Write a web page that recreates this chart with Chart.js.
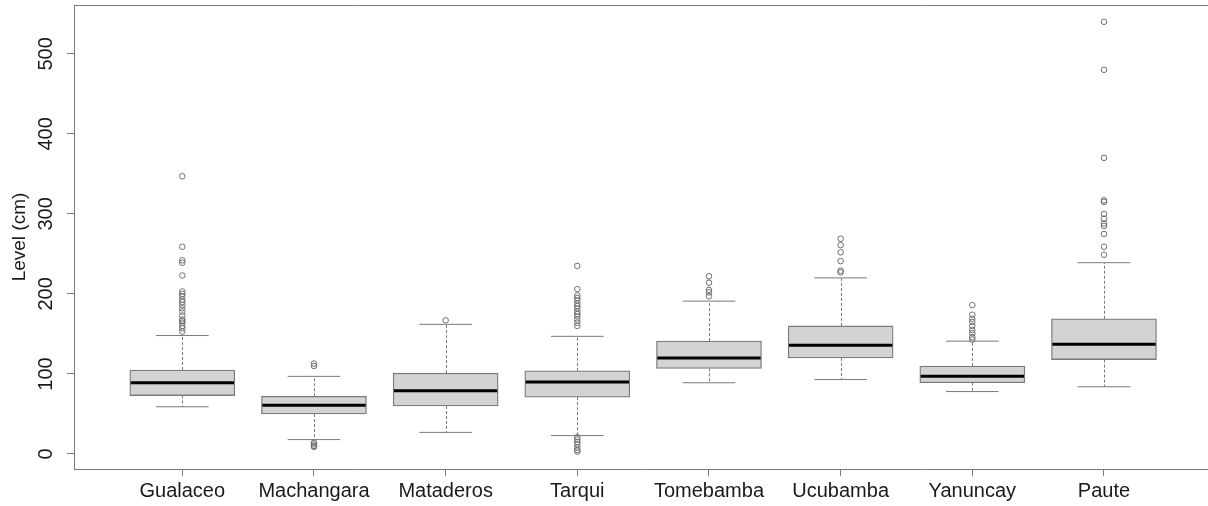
<!DOCTYPE html>
<html>
<head>
<meta charset="utf-8">
<script src="https://cdn.jsdelivr.net/npm/chart.js@4/dist/chart.umd.min.js"></script>
<style>
  html, body { margin: 0; padding: 0; background: #fff; overflow: hidden; }
  #wrap { width: 1208px; height: 506px; }
</style>
</head>
<body>
<div id="wrap"><canvas id="chart" width="1208" height="506"></canvas></div>
<script>
// estaciones
const categories = ['Gualaceo', 'Machangara', 'Mataderos', 'Tarqui', 'Tomebamba', 'Ucubamba', 'Yanuncay', 'Paute'];

// resumen de cada caja (cm)
const lowerWhisker = [59, 18, 27, 23, 89, 93, 78, 84];
const q1 = [73, 50, 60, 71, 107, 120, 89, 118];
const median = [89, 61, 79, 90, 120, 136, 97, 137];
const q3 = [105, 72, 101, 104, 141, 160, 110, 169];
const upperWhisker = [148, 97, 162, 147, 191, 220, 141, 239];

// valores atipicos por estacion
const outGualaceo = [347, 259, 242, 239, 223, 203, 200, 197, 193, 190, 186, 182, 178, 173, 168, 166, 164, 160, 157, 153];
const outMachangara = [113, 110, 14, 12, 10, 9];
const outMataderos = [167];
const outTarqui = [235, 206, 198, 195, 192, 188, 185, 182, 178, 175, 172, 168, 164, 160, 21, 18, 15, 12, 8, 5, 3];
const outTomebamba = [222, 214, 205, 202, 197];
const outUcubamba = [269, 261, 252, 241, 229, 227];
const outYanuncay = [186, 174, 169, 165, 160, 155, 151, 146, 143];
const outPaute = [540, 480, 370, 317, 315, 300, 294, 288, 285, 275, 259, 249];
const outliers = [outGualaceo, outMachangara, outMataderos, outTarqui, outTomebamba, outUcubamba, outYanuncay, outPaute];

const yTicks = [0, 100, 200, 300, 400, 500];

const GRIS = '#7a7a7a';
const FUENTE = "'Liberation Sans', Arial, sans-serif";

// datos para la libreria
const datosCajas = categories.map((c, i) => ({ x: i + 1, y: [q1[i], q3[i]] }));
const datosAtipicos = [];
outliers.forEach((lista, i) => {
    lista.forEach(v => datosAtipicos.push({ x: i + 1, y: v }));
});

// quitar el relleno automatico de las escalas
function sinRelleno(s) {
    s.paddingTop = 0;
    s.paddingBottom = 0;
    s.paddingLeft = 0;
    s.paddingRight = 0;
}

// bigotes, topes y medianas dibujados con las escalas del grafico
const bigotesPlugin = {
    id: 'bigotes',
    beforeDatasetsDraw(chart) {
        const ctx = chart.ctx;
        const xs = chart.scales.x;
        const ys = chart.scales.y;
        ctx.save();
        ctx.strokeStyle = GRIS;
        ctx.lineWidth = 1;
        categories.forEach((c, i) => {
            const x = Math.round(xs.getPixelForValue(i + 1)) + 0.5;
            const x0 = xs.getPixelForValue(i + 1 - 0.2);
            const x1 = xs.getPixelForValue(i + 1 + 0.2);
            ctx.setLineDash([3, 2]);
            ctx.beginPath();
            ctx.moveTo(x, ys.getPixelForValue(q3[i]));
            ctx.lineTo(x, ys.getPixelForValue(upperWhisker[i]));
            ctx.moveTo(x, ys.getPixelForValue(q1[i]));
            ctx.lineTo(x, ys.getPixelForValue(lowerWhisker[i]));
            ctx.stroke();
            ctx.setLineDash([]);
            ctx.beginPath();
            ctx.moveTo(x0, ys.getPixelForValue(upperWhisker[i]));
            ctx.lineTo(x1, ys.getPixelForValue(upperWhisker[i]));
            ctx.moveTo(x0, ys.getPixelForValue(lowerWhisker[i]));
            ctx.lineTo(x1, ys.getPixelForValue(lowerWhisker[i]));
            ctx.stroke();
        });
        ctx.restore();
    },
    afterDatasetsDraw(chart) {
        const ctx = chart.ctx;
        const xs = chart.scales.x;
        const ys = chart.scales.y;
        ctx.save();
        ctx.strokeStyle = '#000';
        ctx.lineWidth = 3;
        categories.forEach((c, i) => {
            const y = ys.getPixelForValue(median[i]);
            ctx.beginPath();
            ctx.moveTo(xs.getPixelForValue(i + 1 - 0.4) + 1, y);
            ctx.lineTo(xs.getPixelForValue(i + 1 + 0.4) - 1, y);
            ctx.stroke();
        });
        // borde superior del marco
        const a = chart.chartArea;
        ctx.strokeStyle = GRIS;
        ctx.lineWidth = 1;
        ctx.beginPath();
        ctx.moveTo(a.left, a.top + 0.5);
        ctx.lineTo(a.right, a.top + 0.5);
        ctx.stroke();
        ctx.restore();
    }
};

new Chart(document.getElementById('chart'), {
    data: {
        datasets: [
            {
                type: 'bar',
                data: datosCajas,
                backgroundColor: '#d3d3d3',
                borderColor: GRIS,
                borderWidth: 1.3,
                borderSkipped: false,
                barThickness: 105
            },
            {
                type: 'scatter',
                data: datosAtipicos,
                pointRadius: 2.8,
                pointBorderWidth: 1,
                pointBorderColor: '#6e6e6e',
                pointBackgroundColor: 'rgba(0,0,0,0)'
            }
        ]
    },
    options: {
        responsive: false,
        animation: false,
        layout: { autoPadding: false, padding: { top: 5, right: 0, bottom: 0, left: 0 } },
        plugins: {
            legend: { display: false },
            tooltip: { enabled: false }
        },
        scales: {
            x: {
                type: 'linear',
                offset: false,
                min: 0.1775,
                max: 8.79,
                afterBuildTicks: s => { s.ticks = categories.map((c, i) => ({ value: i + 1 })); },
                afterFit: s => { s.height = 37; sinRelleno(s); },
                grid: { offset: false, drawOnChartArea: false, drawTicks: true, tickLength: 7, color: GRIS },
                border: { display: true, color: GRIS, width: 1 },
                ticks: {
                    autoSkip: false,
                    maxRotation: 0,
                    padding: 3,
                    color: '#1a1a1a',
                    font: { family: FUENTE, size: 20 },
                    callback: v => categories[v - 1]
                }
            },
            y: {
                min: -18.75,
                max: 561,
                afterBuildTicks: s => { s.ticks = yTicks.map(v => ({ value: v })); },
                afterFit: s => { s.width = 74; sinRelleno(s); },
                grid: { drawOnChartArea: false, drawTicks: true, tickLength: 7, color: GRIS },
                border: { display: true, color: GRIS, width: 1 },
                title: {
                    display: true,
                    text: 'Level (cm)',
                    color: '#1a1a1a',
                    font: { family: FUENTE, size: 19 },
                    padding: { top: 8, bottom: 0 }
                },
                ticks: {
                    minRotation: 90,
                    maxRotation: 90,
                    crossAlign: 'center',
                    padding: 4,
                    color: '#1a1a1a',
                    font: { family: FUENTE, size: 20 }
                }
            }
        }
    },
    plugins: [bigotesPlugin]
});
</script>
</body>
</html>
